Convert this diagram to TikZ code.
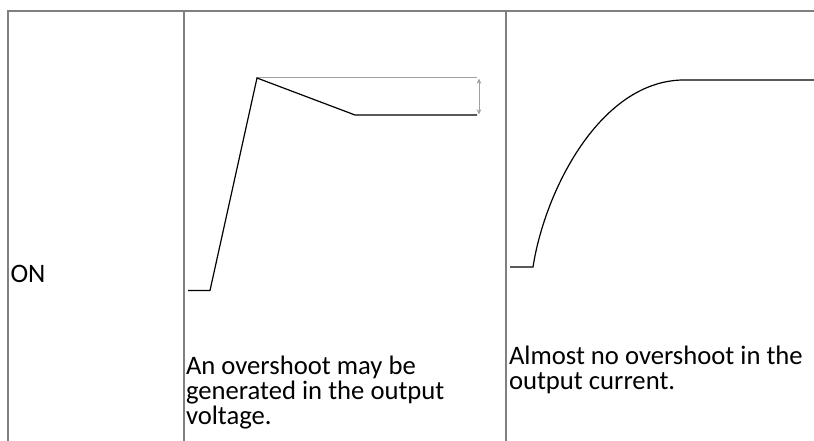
\documentclass[tikz,border=0pt]{standalone}
\usepackage{fontspec}
\setmainfont{Carlito}
\usetikzlibrary{arrows.meta}

\tikzset{every picture/.style={line width=0.75pt}}

\begin{document}
\begin{tikzpicture}[x=0.75pt,y=0.75pt,yscale=-1,xscale=1]
\useasboundingbox (0,0) rectangle (814,441);

%Table Lines
\draw [color={rgb, 255:red, 128; green, 128; blue, 128 }  ][line width=1.5]    (7,11) -- (814,11) ;
\draw [color={rgb, 255:red, 128; green, 128; blue, 128 }  ][line width=1.5]    (7.5,11) -- (7.5,441) ;
\draw [color={rgb, 255:red, 128; green, 128; blue, 128 }  ][line width=1.5]    (184,11) -- (184,441) ;
\draw [color={rgb, 255:red, 128; green, 128; blue, 128 }  ][line width=1.5]    (505.5,11) -- (505.5,441) ;

%Straight Lines (voltage)
\draw [color={rgb, 255:red, 160; green, 160; blue, 160 }  ][line width=0.75]    (257,78) -- (477,78) ;
\draw [color={rgb, 255:red, 0; green, 0; blue, 0 }  ][line width=0.9]    (188,290.5) -- (210,290.5) -- (257,78) -- (355,115) -- (477,115) ;
%Double Arrow
\draw [color={rgb, 255:red, 160; green, 160; blue, 160 }  ][line width=0.6] [{Stealth[length=4pt,width=3.5pt]}-{Stealth[length=4pt,width=3.5pt]}]  (479,78.5) -- (479,114.5) ;

%Curve Lines (current)
\draw [color={rgb, 255:red, 0; green, 0; blue, 0 }  ][line width=0.9]    (510,267) -- (533,267) .. controls (545,190) and (600,82) .. (682,80) -- (814,80) ;

% Text Node
\draw (9,274) node [anchor=west][inner sep=0.75pt]  [font=\fontsize{20}{18.75}\selectfont] [align=left] {ON};
% Text Node
\draw (184.5,354) node [anchor=north west][inner sep=0.75pt]  [font=\fontsize{20}{18.75}\selectfont] [align=left] {An overshoot may be\\generated in the output\\voltage.};
% Text Node
\draw (507.5,344) node [anchor=north west][inner sep=0.75pt]  [font=\fontsize{20}{18.75}\selectfont] [align=left] {Almost no overshoot in the\\output current.};

\end{tikzpicture}
\end{document}
